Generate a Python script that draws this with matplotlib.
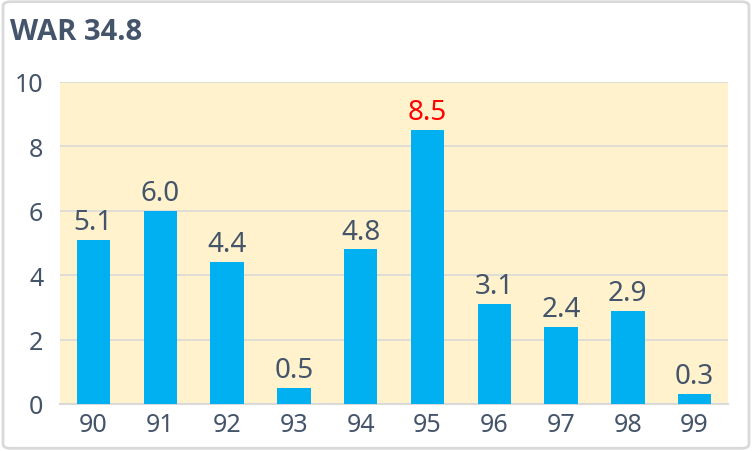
import matplotlib
matplotlib.use("Agg")
from matplotlib import pyplot as plt
from matplotlib.patches import FancyBboxPatch

years = ["90", "91", "92", "93", "94", "95", "96", "97", "98", "99"]
war = [5.1, 6.0, 4.4, 0.5, 4.8, 8.5, 3.1, 2.4, 2.9, 0.3]
title_txt = "WAR 34.8"
highlight = "95"

text_col = "#44546A"
bar_col = "#00B0F0"
bg_col = "#FFF2CC"
grid_col = "#D9D9D9"

plt.rcParams["font.family"] = ["Noto Sans", "DejaVu Sans"]

fig = plt.figure(figsize=(7.52, 4.52), dpi=100)
frame = FancyBboxPatch((0.004, 0.006), 0.992, 0.988,
                       boxstyle="round,pad=0,rounding_size=0.01",
                       transform=fig.transFigure, fc="white",
                       ec=grid_col, lw=2, zorder=-5)
fig.patches.append(frame)

ax = fig.add_axes([0.0798, 0.104, 0.8883, 0.7124])
ax.set_zorder(2)
ax.set_facecolor(bg_col)

x = range(len(years))
ax.bar(x, war, width=0.5, color=bar_col, zorder=3)

for i, v in enumerate(war):
    c = "red" if years[i] == highlight else text_col
    ax.text(i, v + 0.12, f"{v:.1f}", ha="center", va="bottom",
            fontsize=20, color=c, zorder=4)

ax.set_xlim(-0.5, len(years) - 0.5)
ax.set_ylim(0, 10)
ax.set_yticks([0, 2, 4, 6, 8, 10])
ax.set_xticks(list(x))
ax.set_xticklabels(years)
ax.tick_params(axis="both", length=0, labelsize=18, colors=text_col)
ax.tick_params(axis="x", pad=6)
ax.tick_params(axis="y", pad=12)
ax.grid(axis="y", color=grid_col, lw=1.2, zorder=1)
for s in ["top", "right", "left"]:
    ax.spines[s].set_visible(False)
ax.spines["bottom"].set_color(grid_col)
ax.spines["bottom"].set_linewidth(1.5)

fig.text(0.013, 0.928, title_txt, fontsize=21, fontweight="bold",
         family=["Open Sans", "DejaVu Sans"],
         color=text_col, ha="left", va="center")

plt.savefig("out.png", dpi=100)
